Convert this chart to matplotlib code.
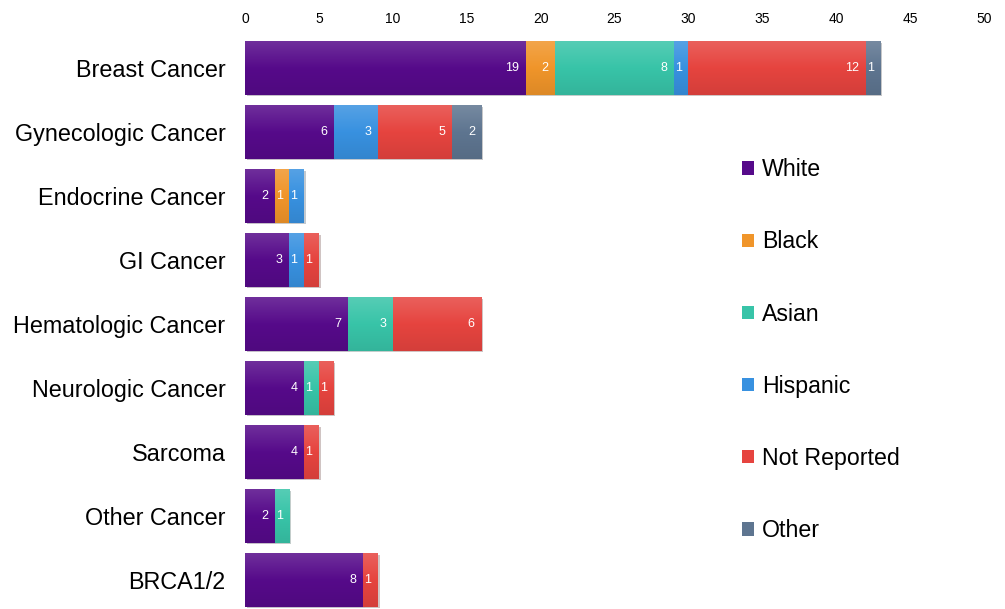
import numpy as np
import matplotlib
matplotlib.use('Agg')
import matplotlib.pyplot as plt
from matplotlib.patches import Patch
from matplotlib.colors import LinearSegmentedColormap, to_rgb
import matplotlib.patheffects as pe

plt.rcParams['font.family'] = ['Liberation Sans', 'DejaVu Sans']

# data
categories = ['Breast Cancer', 'Gynecologic Cancer', 'Endocrine Cancer', 'GI Cancer',
              'Hematologic Cancer', 'Neurologic Cancer', 'Sarcoma', 'Other Cancer', 'BRCA1/2']
groups = ['White', 'Black', 'Asian', 'Hispanic', 'Not Reported', 'Other']
white = [19, 6, 2, 3, 7, 4, 4, 2, 8]
black = [2, 0, 1, 0, 0, 0, 0, 0, 0]
asian = [8, 0, 0, 0, 3, 1, 0, 1, 0]
hispanic = [1, 3, 1, 1, 0, 0, 0, 0, 0]
not_reported = [12, 5, 0, 1, 6, 1, 1, 0, 1]
other = [1, 2, 0, 0, 0, 0, 0, 0, 0]
ticks = [0, 5, 10, 15, 20, 25, 30, 35, 40, 45, 50]

series = [white, black, asian, hispanic, not_reported, other]
colors = ['#560a8a', '#f0952a', '#38c4a8', '#3891e0', '#e6443f', '#5e7590']

fig = plt.figure(figsize=(10.05, 6.09), dpi=100)
ax = fig.add_axes([245 / 1005, 0, 739 / 1005, 573 / 609])

y = np.arange(len(categories))
left = np.zeros(len(categories))


def shade(c, f):
    r = np.array(to_rgb(c))
    if f > 0:
        return r + (1 - r) * f
    return r * (1 + f)


for vals, col, name in zip(series, colors, groups):
    vals = np.array(vals, dtype=float)
    bars = ax.barh(y, vals, left=left, height=0.83, color=col, label=name, zorder=2,
                   path_effects=[pe.SimplePatchShadow(offset=(1.2, -1.2), alpha=0.25), pe.Normal()])
    cmap = LinearSegmentedColormap.from_list('g', [shade(col, 0.15), shade(col, 0), shade(col, -0.08)])
    grad = np.linspace(0, 1, 64).reshape(-1, 1)
    for b, v, l, yy in zip(bars, vals, left, y):
        if v <= 0:
            continue
        im = ax.imshow(grad, cmap=cmap, aspect='auto', zorder=3,
                       extent=[l, l + v, yy + 0.415, yy - 0.415], interpolation='bicubic')
        im.set_clip_path(b)
        ax.text(l + v - 0.45, yy, f'{int(v)}', ha='right', va='center', color='white',
                fontsize=9, zorder=4)
    left += vals

ax.set_xlim(0, 50)
ax.set_ylim(8 + 29 / 64, -0.5)
ax.set_xticks(ticks)
ax.xaxis.tick_top()
ax.tick_params(axis='x', length=0, pad=7, labelsize=10)
ax.set_yticks(y)
ax.set_yticklabels(categories)
ax.tick_params(axis='y', length=0, pad=14, labelsize=16.8)
for s in ax.spines.values():
    s.set_visible(False)

handles = [Patch(facecolor=c, label=g) for c, g in zip(colors, groups)]
fig.legend(handles=handles, loc='upper left', bbox_to_anchor=(733 / 1005, 1 - 149 / 609),
           frameon=False, fontsize=16.7, handlelength=0.5, handleheight=0.5,
           handletextpad=0.35, labelspacing=2.12, borderaxespad=0)

fig.savefig('out.png', dpi=100)
